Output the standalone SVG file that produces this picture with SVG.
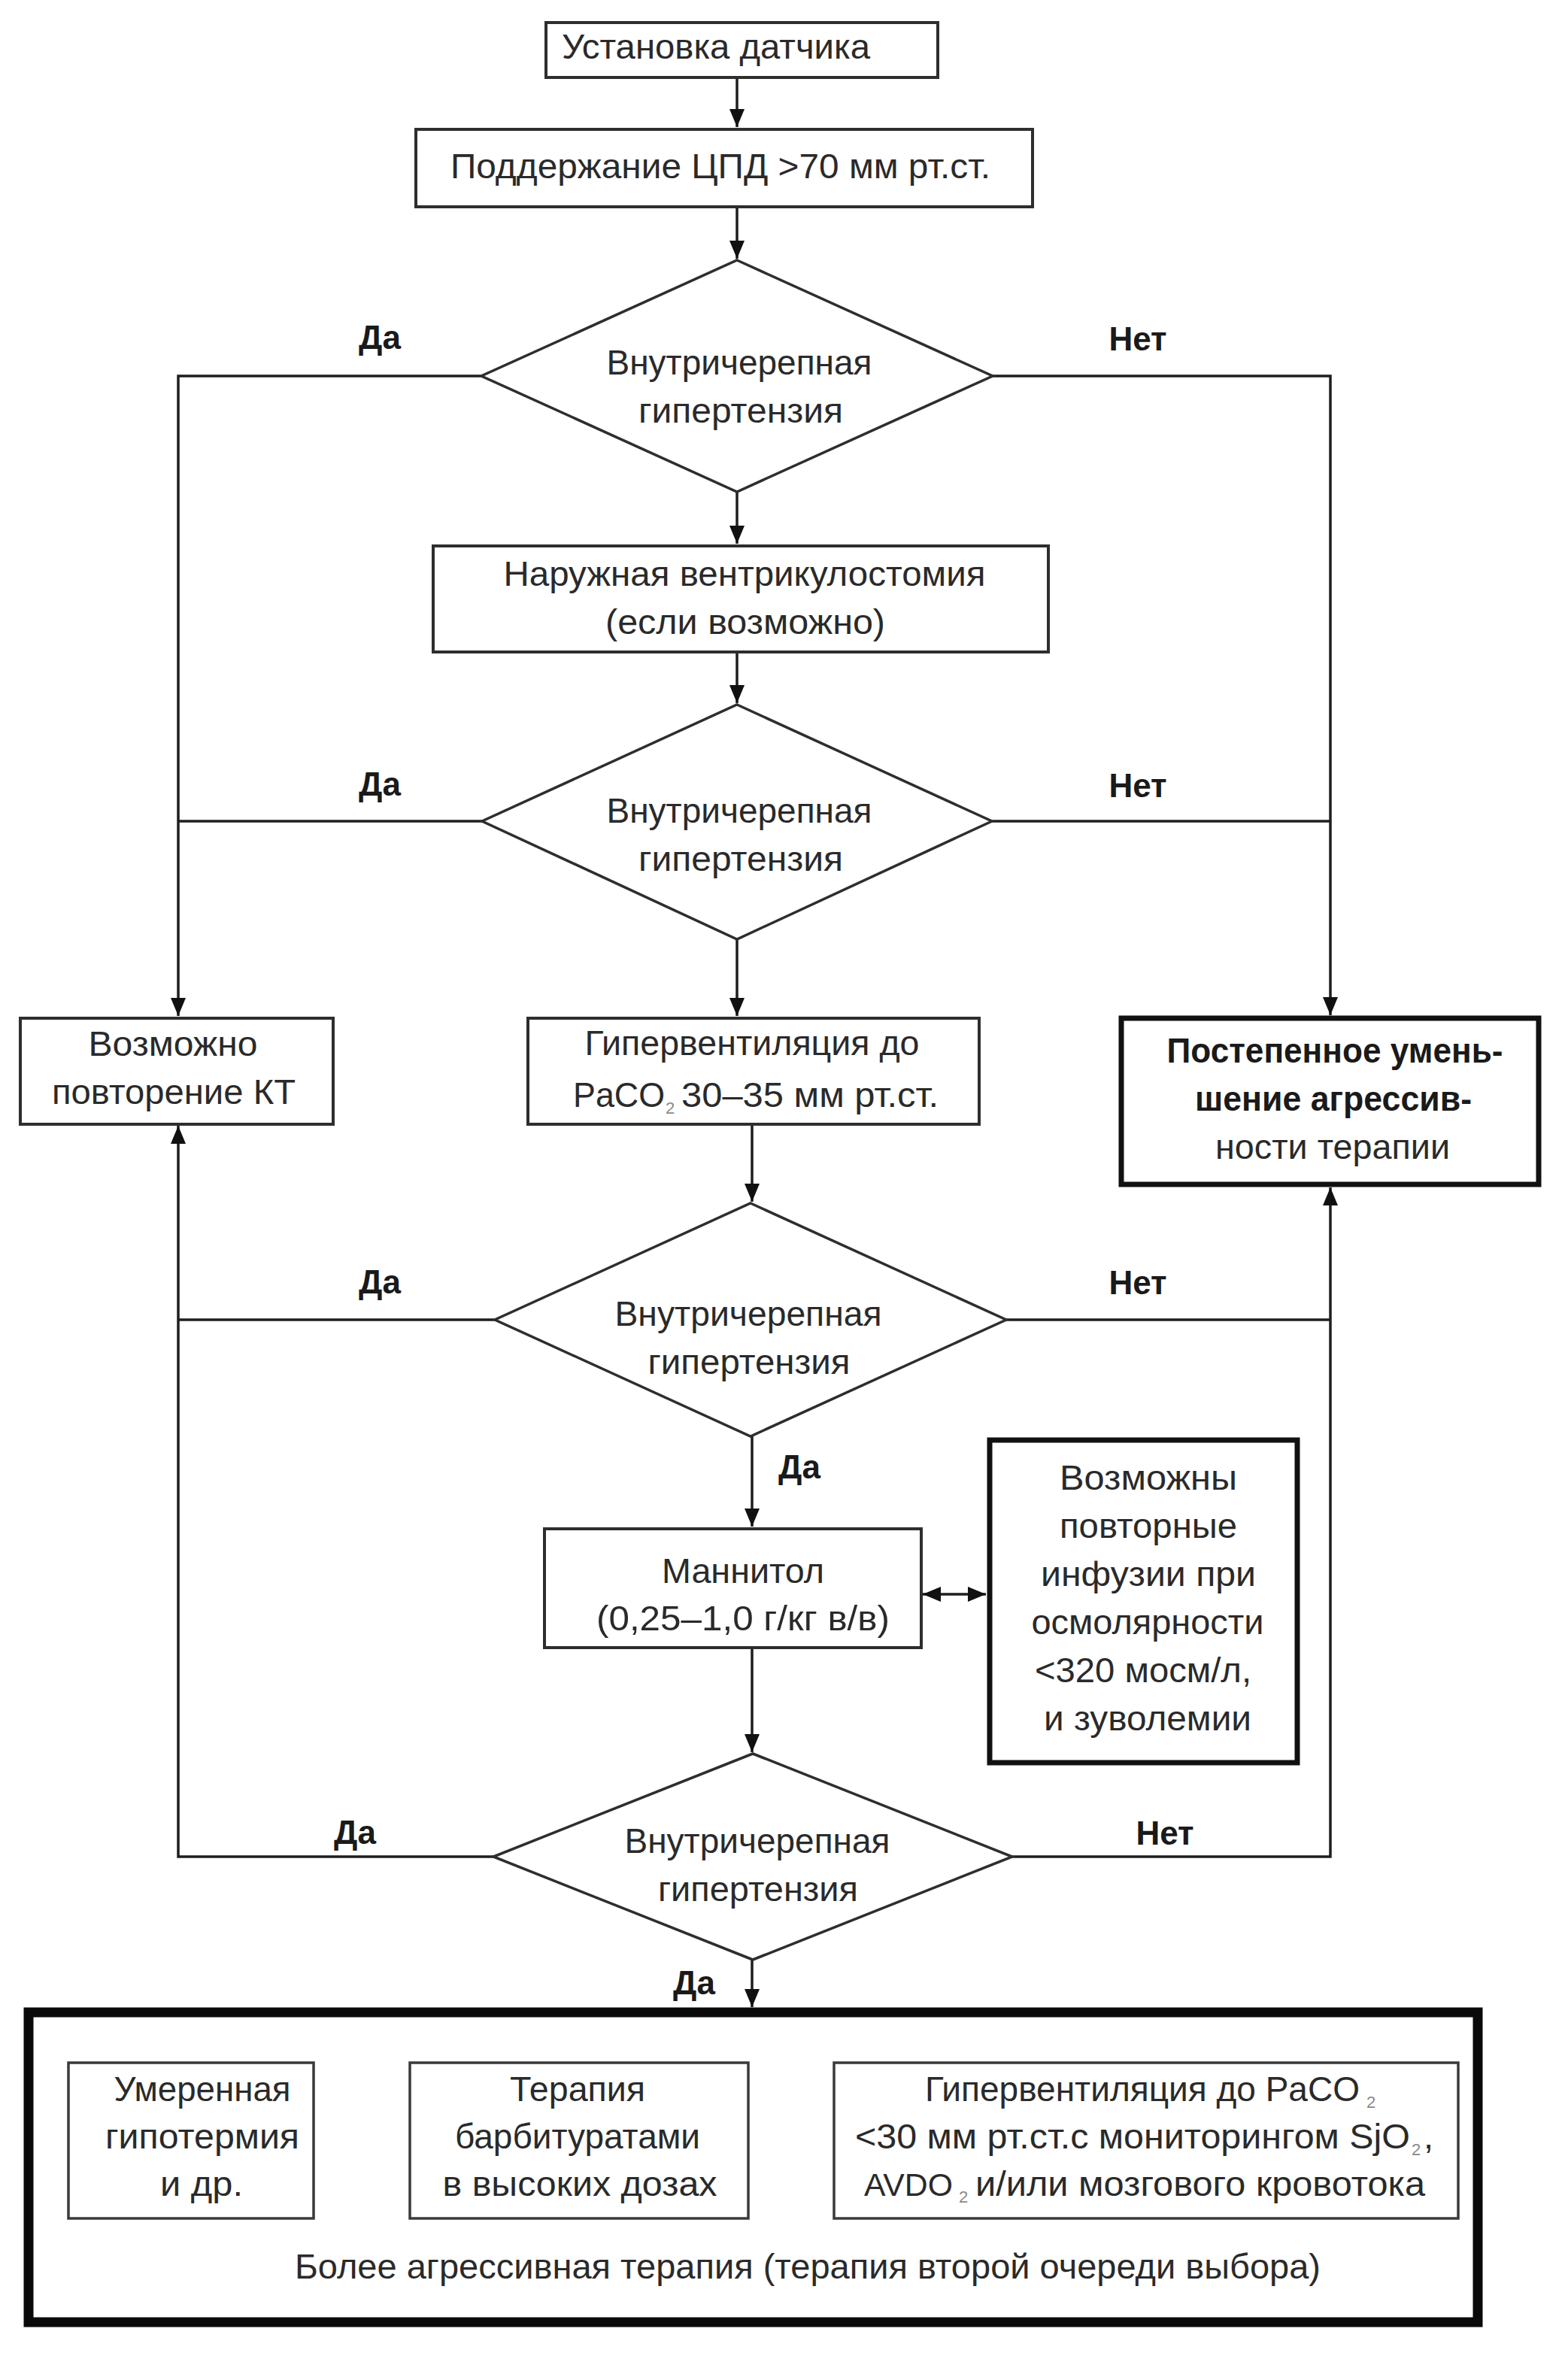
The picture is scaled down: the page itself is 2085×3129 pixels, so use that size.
<svg xmlns="http://www.w3.org/2000/svg" width="2085" height="3129" viewBox="0 0 2085 3129">
<style>
text{font-family:"Liberation Sans","DejaVu Sans",sans-serif;font-size:47px;fill:#2a2a2a;text-anchor:middle}
.st{text-anchor:start}
.b{font-weight:bold;fill:#1a1a1a}
.lbl{font-weight:bold;font-size:44px;fill:#1a1a1a}
.box{fill:#fff;stroke:#2e2e2e;stroke-width:4}
.thick{fill:#fff;stroke:#111;stroke-width:7}
.dia{fill:#fff;stroke:#2e2e2e;stroke-width:3.5}
.sub{fill:#fff;stroke:#3a3a3a;stroke-width:3.5}
.big{fill:none;stroke:#0a0a0a;stroke-width:13}
.c{fill:none;stroke:#1e1e1e;stroke-width:3.5}
.sx{font-size:22px;fill:#8a8a8a}
</style>
<defs>
<marker id="ah" markerUnits="userSpaceOnUse" markerWidth="24" markerHeight="20" refX="24" refY="10" orient="auto-start-reverse" viewBox="0 0 24 20">
<path d="M0,0 L24,10 L0,20 z" fill="#111"/>
</marker>
</defs>
<rect width="2085" height="3129" fill="#fff"/>

<g id="connectors">
<path class="c" d="M980,103 V169" marker-end="url(#ah)"/>
<path class="c" d="M980,275 V344" marker-end="url(#ah)"/>
<path class="c" d="M640,500 H237 V1351" marker-end="url(#ah)"/>
<path class="c" d="M1320,500 H1769 V1350" marker-end="url(#ah)"/>
<path class="c" d="M980,654 V723" marker-end="url(#ah)"/>
<path class="c" d="M980,867 V935" marker-end="url(#ah)"/>
<path class="c" d="M641,1092 H237"/>
<path class="c" d="M1319,1092 H1769"/>
<path class="c" d="M980,1249 V1351" marker-end="url(#ah)"/>
<path class="c" d="M1000,1495 V1598" marker-end="url(#ah)"/>
<path class="c" d="M658,1755 H237"/>
<path class="c" d="M1338,1755 H1769"/>
<path class="c" d="M656,2469 H237 V1497" marker-end="url(#ah)"/>
<path class="c" d="M1346,2469 H1769 V1579" marker-end="url(#ah)"/>
<path class="c" d="M1000,1910 V2030" marker-end="url(#ah)"/>
<path class="c" d="M1227,2120 H1311" marker-start="url(#ah)" marker-end="url(#ah)"/>
<path class="c" d="M1000,2191 V2330" marker-end="url(#ah)"/>
<path class="c" d="M1000,2606 V2669" marker-end="url(#ah)"/>
</g>

<g id="labels">
<text class="lbl" x="505" y="464">Да</text>
<text class="lbl" x="1513" y="466">Нет</text>
<text class="lbl" x="505" y="1058">Да</text>
<text class="lbl" x="1513" y="1060">Нет</text>
<text class="lbl" x="505" y="1720">Да</text>
<text class="lbl" x="1513" y="1721">Нет</text>
<text class="lbl" x="1063" y="1966">Да</text>
<text class="lbl" x="472" y="2452">Да</text>
<text class="lbl" x="1549" y="2453">Нет</text>
<text class="lbl" x="923" y="2652">Да</text>
</g>

<g id="n1">
<rect class="box" x="726" y="30" width="521" height="73"/>
<text x="952" y="78" textLength="410" lengthAdjust="spacingAndGlyphs">Установка датчика</text>
</g>
<g id="n2">
<rect class="box" x="553" y="172" width="820" height="103"/>
<text x="958" y="237" textLength="718" lengthAdjust="spacingAndGlyphs">Поддержание ЦПД &gt;70 мм рт.ст.</text>
</g>
<g id="d1">
<polygon class="dia" points="980,346 1320,500 980,654 640,500"/>
<text x="983" y="498" textLength="353" lengthAdjust="spacingAndGlyphs">Внутричерепная</text>
<text x="985" y="562" textLength="272" lengthAdjust="spacingAndGlyphs">гипертензия</text>
</g>
<g id="n3">
<rect class="box" x="576" y="726" width="818" height="141"/>
<text x="990" y="779" textLength="641" lengthAdjust="spacingAndGlyphs">Наружная вентрикулостомия</text>
<text x="991" y="843" textLength="372" lengthAdjust="spacingAndGlyphs">(если возможно)</text>
</g>
<g id="d2">
<polygon class="dia" points="980,937 1319,1092 980,1249 641,1092"/>
<text x="983" y="1094" textLength="353" lengthAdjust="spacingAndGlyphs">Внутричерепная</text>
<text x="985" y="1158" textLength="272" lengthAdjust="spacingAndGlyphs">гипертензия</text>
</g>
<g id="n4">
<rect class="box" x="27" y="1354" width="416" height="141"/>
<text x="230" y="1404" textLength="225" lengthAdjust="spacingAndGlyphs">Возможно</text>
<text x="231" y="1468" textLength="324" lengthAdjust="spacingAndGlyphs">повторение КТ</text>
</g>
<g id="n5">
<rect class="box" x="702" y="1354" width="600" height="141"/>
<text x="1000" y="1403" textLength="445" lengthAdjust="spacingAndGlyphs">Гипервентиляция до</text>
<text class="st" x="762" y="1472" textLength="122" lengthAdjust="spacingAndGlyphs">PaCO</text>
<text class="sx" x="891" y="1481">2</text>
<text class="st" x="906" y="1472" textLength="342" lengthAdjust="spacingAndGlyphs">30–35 мм рт.ст.</text>
</g>
<g id="n6">
<rect class="thick" x="1491" y="1354" width="555" height="221"/>
<text class="b" x="1775" y="1413" textLength="447" lengthAdjust="spacingAndGlyphs">Постепенное умень-</text>
<text class="b" x="1773" y="1477" textLength="368" lengthAdjust="spacingAndGlyphs">шение агрессив-</text>
<text x="1772" y="1541" textLength="312" lengthAdjust="spacingAndGlyphs">ности терапии</text>
</g>
<g id="d3">
<polygon class="dia" points="998,1600 1338,1755 998,1910 658,1755"/>
<text x="995" y="1763" textLength="355" lengthAdjust="spacingAndGlyphs">Внутричерепная</text>
<text x="996" y="1827" textLength="269" lengthAdjust="spacingAndGlyphs">гипертензия</text>
</g>
<g id="n7">
<rect class="box" x="724" y="2033" width="501" height="158"/>
<text x="988" y="2105" textLength="216" lengthAdjust="spacingAndGlyphs">Маннитол</text>
<text x="988" y="2168" textLength="390" lengthAdjust="spacingAndGlyphs">(0,25–1,0 г/кг в/в)</text>
</g>
<g id="n8">
<rect class="thick" x="1316" y="1915" width="409" height="429"/>
<text x="1527" y="1981" textLength="236" lengthAdjust="spacingAndGlyphs">Возможны</text>
<text x="1527" y="2045" textLength="236" lengthAdjust="spacingAndGlyphs">повторные</text>
<text x="1527" y="2109" textLength="286" lengthAdjust="spacingAndGlyphs">инфузии при</text>
<text x="1526" y="2173" textLength="309" lengthAdjust="spacingAndGlyphs">осмолярности</text>
<text x="1520" y="2237" textLength="288" lengthAdjust="spacingAndGlyphs">&lt;320 мосм/л,</text>
<text x="1526" y="2301" textLength="276" lengthAdjust="spacingAndGlyphs">и зуволемии</text>
</g>
<g id="d4">
<polygon class="dia" points="1001,2332 1346,2469 1001,2606 656,2469"/>
<text x="1007" y="2464" textLength="353" lengthAdjust="spacingAndGlyphs">Внутричерепная</text>
<text x="1008" y="2528" textLength="266" lengthAdjust="spacingAndGlyphs">гипертензия</text>
</g>
<g id="n9">
<rect class="big" x="38" y="2676" width="1927" height="412"/>
<g id="n9a">
<rect class="sub" x="91" y="2743" width="326" height="207"/>
<text x="269" y="2794" textLength="235" lengthAdjust="spacingAndGlyphs">Умеренная</text>
<text x="269" y="2857" textLength="258" lengthAdjust="spacingAndGlyphs">гипотермия</text>
<text x="268" y="2920" textLength="110" lengthAdjust="spacingAndGlyphs">и др.</text>
</g>
<g id="n9b">
<rect class="sub" x="545" y="2743" width="450" height="207"/>
<text x="768" y="2794" textLength="180" lengthAdjust="spacingAndGlyphs">Терапия</text>
<text x="768" y="2857" textLength="326" lengthAdjust="spacingAndGlyphs">барбитуратами</text>
<text x="771" y="2920" textLength="365" lengthAdjust="spacingAndGlyphs">в высоких дозах</text>
</g>
<g id="n9c">
<rect class="sub" x="1109" y="2743" width="830" height="207"/>
<text class="st" x="1230" y="2794" style="font-size:45.5px" textLength="578" lengthAdjust="spacingAndGlyphs">Гипервентиляция до PaCO</text>
<text class="sx" x="1823" y="2803">2</text>
<text class="st" x="1137" y="2857" textLength="738" lengthAdjust="spacingAndGlyphs">&lt;30 мм рт.ст.с мониторингом SjO</text>
<text class="sx" x="1883" y="2866">2</text>
<text class="st" x="1893" y="2857">,</text>
<text class="st" x="1149" y="2920" style="font-size:43px" textLength="118" lengthAdjust="spacingAndGlyphs">AVDO</text>
<text class="sx" x="1281" y="2929">2</text>
<text class="st" x="1297" y="2920" textLength="598" lengthAdjust="spacingAndGlyphs">и/или мозгового кровотока</text>
</g>
<text x="1074" y="3030" textLength="1364" lengthAdjust="spacingAndGlyphs">Более агрессивная терапия (терапия второй очереди выбора)</text>
</g>
</svg>
